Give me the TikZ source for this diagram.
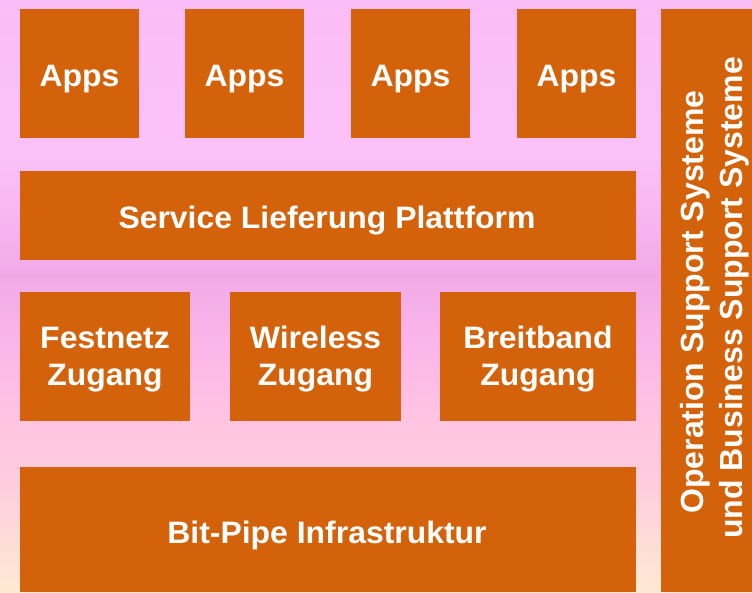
\documentclass[tikz,border=0pt]{standalone}
\usepackage{fontspec}
\setmainfont{Liberation Sans}
\definecolor{boxorange}{HTML}{D3620B}
\definecolor{bgA}{HTML}{FABCF6}
\definecolor{bgB}{HTML}{FCC2F8}
\definecolor{bgC}{HTML}{F7B4F0}
\definecolor{bgD}{HTML}{F1AAE7}
\definecolor{bgE}{HTML}{FBB6E9}
\definecolor{bgF}{HTML}{FFC4E2}
\definecolor{bgG}{HTML}{FFCCDE}
\definecolor{bgH}{HTML}{FEDCD8}
\definecolor{bgI}{HTML}{FEEAD4}
\begin{document}
\begin{tikzpicture}[x=1pt,y=-1pt,
  blk/.style={fill=boxorange, draw=none, inner sep=0pt, outer sep=0pt},
  lbl/.style={text=white, font=\bfseries\fontsize{31}{38}\selectfont, inner sep=0pt, anchor=base, xscale=1.03},
  osslbl/.style={text=white, font=\bfseries\fontsize{32}{39}\selectfont, inner sep=0pt, anchor=base, rotate=90}]
\useasboundingbox (0,0) rectangle (752,592);
% background gradient
\shade[top color=bgA, bottom color=bgB] (0,0) rectangle (752,150.5);
\shade[top color=bgB, bottom color=bgC] (0,150) rectangle (752,225.5);
\shade[top color=bgC, bottom color=bgD] (0,225) rectangle (752,275.5);
\shade[top color=bgD, bottom color=bgE] (0,275) rectangle (752,345.5);
\shade[top color=bgE, bottom color=bgF] (0,345) rectangle (752,420.5);
\shade[top color=bgF, bottom color=bgG] (0,420) rectangle (752,480.5);
\shade[top color=bgG, bottom color=bgH] (0,480) rectangle (752,540.5);
\shade[top color=bgH, bottom color=bgI] (0,540) rectangle (752,592);
% boxes
\node[blk, minimum width=119pt, minimum height=129pt] (app1) at (79.5,73.5) {};
\node[blk, minimum width=119pt, minimum height=129pt] (app2) at (244.5,73.5) {};
\node[blk, minimum width=119pt, minimum height=129pt] (app3) at (410.5,73.5) {};
\node[blk, minimum width=119pt, minimum height=129pt] (app4) at (576.5,73.5) {};
\node[blk, minimum width=616pt, minimum height=89pt] (sdp) at (328,215.5) {};
\node[blk, minimum width=170pt, minimum height=129pt] (fest) at (105,356.5) {};
\node[blk, minimum width=171pt, minimum height=129pt] (wire) at (315.5,356.5) {};
\node[blk, minimum width=196pt, minimum height=129pt] (breit) at (538,356.5) {};
\node[blk, minimum width=616pt, minimum height=125pt] (bit) at (328,529.5) {};
\node[blk, minimum width=91pt, minimum height=583pt] (oss) at (706.5,300.5) {};
% labels
\node[lbl] (app1t) at (79.5,86) {Apps};
\node[lbl] (app2t) at (244.5,86) {Apps};
\node[lbl] (app3t) at (410.5,86) {Apps};
\node[lbl] (app4t) at (576.5,86) {Apps};
\node[lbl] (sdpt) at (327,228.3) {Service Lieferung Plattform};
\node[lbl] (festa) at (105,348.5) {Festnetz};
\node[lbl] (festb) at (105,385.5) {Zugang};
\node[lbl] (wirea) at (315.5,348.5) {Wireless};
\node[lbl] (wireb) at (315.5,385.5) {Zugang};
\node[lbl] (breita) at (538,348.5) {Breitband};
\node[lbl] (breitb) at (538,385.5) {Zugang};
\node[lbl] (bitt) at (327,543.3) {Bit-Pipe Infrastruktur};
\node[osslbl] (ossa) at (703.7,302) {Operation Support Systeme};
\node[osslbl] (ossb) at (742.7,298) {und Business Support Systeme};
\end{tikzpicture}
\end{document}
